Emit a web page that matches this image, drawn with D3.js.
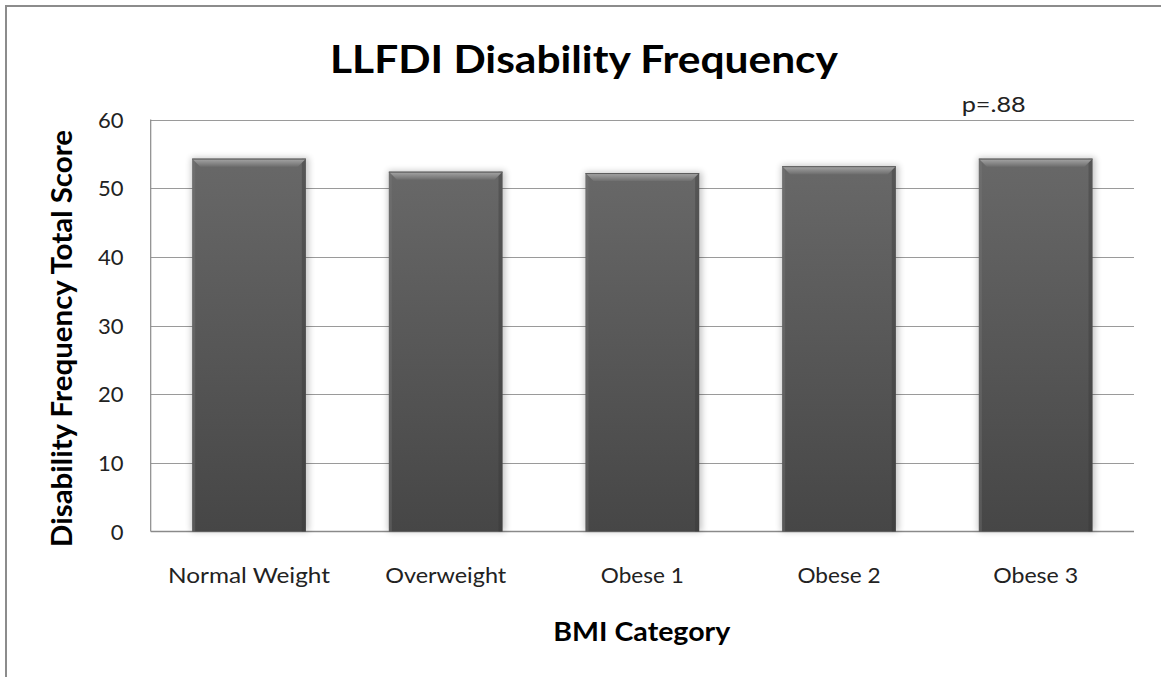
<!DOCTYPE html>
<html>
<head>
<meta charset="utf-8">
<script src="https://cdn.jsdelivr.net/npm/d3@7"></script>
<style>
  html, body { margin: 0; padding: 0; background: #fff; }
  svg { display: block; }
  text { font-family: Lato, "Open Sans", sans-serif; }
</style>
</head>
<body>
<svg id="chart" width="1161" height="677"></svg>
<script>
// BMI categories and mean LLFDI disability frequency scores
const categories = ["Normal Weight", "Overweight", "Obese 1", "Obese 2", "Obese 3"];
const scores = [54.3, 52.4, 52.2, 53.2, 54.3];
const yTicks = [0, 10, 20, 30, 40, 50, 60];
const chartTitle = "LLFDI Disability Frequency";
const xTitle = "BMI Category";
const yTitle = "Disability Frequency Total Score";
const pNote = "p=.88";

const svg = d3.select("#chart");
const W = 1161, H = 677;

const plot = { left: 150.7, right: 1134, top: 119.5, bottom: 531.5 };

const x = d3.scaleBand()
  .domain(categories)
  .range([plot.left, plot.right])
  .paddingInner(0.422)
  .paddingOuter(0.211);

const y = d3.scaleLinear()
  .domain([0, 60])
  .range([plot.bottom, plot.top]);

// Set a text run to a fixed length
function setLength(sel, target) {
  sel.attr("textLength", target).attr("lengthAdjust", "spacingAndGlyphs");
}

const defs = svg.append("defs");

const bodyGrad = defs.append("linearGradient")
  .attr("id", "barBody").attr("x1", 0).attr("y1", 0).attr("x2", 0).attr("y2", 1);
bodyGrad.append("stop").attr("offset", "0%").attr("stop-color", "#686868");
bodyGrad.append("stop").attr("offset", "100%").attr("stop-color", "#464646");

const topGrad = defs.append("linearGradient")
  .attr("id", "barTop").attr("x1", 0).attr("y1", 0).attr("x2", 0).attr("y2", 1);
topGrad.append("stop").attr("offset", "0%").attr("stop-color", "#a8a8a8");
topGrad.append("stop").attr("offset", "100%").attr("stop-color", "#6e6e6e");

const shadow = defs.append("filter")
  .attr("id", "barShadow").attr("x", "-20%").attr("y", "-20%")
  .attr("width", "140%").attr("height", "140%");
shadow.append("feGaussianBlur").attr("stdDeviation", 3);

// Outer chart frame (runs past the right and bottom edges)
svg.append("rect")
  .attr("x", 6).attr("y", 6)
  .attr("width", W + 20).attr("height", H + 20)
  .attr("fill", "#fff")
  .attr("stroke", "#8c8c8c").attr("stroke-width", 2);

// Horizontal gridlines
svg.append("g")
  .selectAll("line")
  .data(yTicks.filter(d => d > 0))
  .join("line")
  .attr("x1", plot.left).attr("x2", plot.right)
  .attr("y1", d => Math.round(y(d)) + 0.5).attr("y2", d => Math.round(y(d)) + 0.5)
  .attr("stroke", "#9a9a9a").attr("stroke-width", 1.2);

// Axis lines
svg.append("line")
  .attr("x1", plot.left).attr("x2", plot.left)
  .attr("y1", plot.top).attr("y2", plot.bottom)
  .attr("stroke", "#8a8a8a").attr("stroke-width", 1.2);
svg.append("line")
  .attr("x1", plot.left).attr("x2", plot.right)
  .attr("y1", plot.bottom).attr("y2", plot.bottom)
  .attr("stroke", "#8a8a8a").attr("stroke-width", 1.5);

// Bars with a bevelled top
const bw = x.bandwidth();
const bev = 8;
const bars = svg.append("g").selectAll("g")
  .data(categories.map((c, i) => ({ c, v: scores[i] })))
  .join("g");

bars.append("rect")
  .attr("x", d => x(d.c) - 1)
  .attr("y", d => y(d.v) - 1)
  .attr("width", bw + 4)
  .attr("height", d => y(0) - y(d.v) + 1)
  .attr("fill", "#000").attr("opacity", 0.22)
  .attr("filter", "url(#barShadow)");

bars.append("rect")
  .attr("x", d => x(d.c))
  .attr("y", d => y(d.v))
  .attr("width", bw)
  .attr("height", d => y(0) - y(d.v))
  .attr("fill", "url(#barBody)");

// left and right edge shading
bars.append("rect")
  .attr("x", d => x(d.c))
  .attr("y", d => y(d.v))
  .attr("width", 3)
  .attr("height", d => y(0) - y(d.v))
  .attr("fill", "#7a7a7a").attr("opacity", 0.35);
bars.append("rect")
  .attr("x", d => x(d.c) + bw - 4)
  .attr("y", d => y(d.v))
  .attr("width", 4)
  .attr("height", d => y(0) - y(d.v))
  .attr("fill", "#333").attr("opacity", 0.35);

bars.append("path")
  .attr("d", d => {
    const x0 = x(d.c), x1 = x0 + bw, y0 = y(d.v);
    return `M${x0},${y0}L${x1},${y0}L${x1 - bev},${y0 + bev}L${x0 + bev},${y0 + bev}Z`;
  })
  .attr("fill", "url(#barTop)");

bars.append("line")
  .attr("x1", d => x(d.c)).attr("x2", d => x(d.c) + bw)
  .attr("y1", d => y(d.v) + 0.5).attr("y2", d => y(d.v) + 0.5)
  .attr("stroke", "#5a5a5a").attr("stroke-width", 1);

// Category labels
const labelWidths = [162, 121, 83, 83, 85];
svg.append("g").selectAll("text")
  .data(categories)
  .join("text")
  .attr("x", d => x(d) + bw / 2)
  .attr("y", 583)
  .attr("text-anchor", "middle")
  .attr("font-size", 21.5)
  .attr("fill", "#222")
  .text(d => d)
  .each(function (d, i) { setLength(d3.select(this), labelWidths[i]); });

// Y tick labels
svg.append("g").selectAll("text")
  .data(yTicks)
  .join("text")
  .attr("x", 123.5)
  .attr("y", d => y(d) + 8)
  .attr("text-anchor", "end")
  .attr("font-size", 22)
  .attr("fill", "#222")
  .text(d => d);

// Significance note
const pn = svg.append("text")
  .attr("x", 961.7).attr("y", 112.3)
  .attr("font-size", 22)
  .attr("fill", "#222")
  .text(pNote);
setLength(pn, 64);

// Chart title
const title = svg.append("text")
  .attr("x", 330).attr("y", 72.7)
  .attr("font-size", 38.5).attr("font-weight", 700)
  .attr("fill", "#000")
  .text(chartTitle);
setLength(title, 508);

// Axis titles
const xt = svg.append("text")
  .attr("x", 553.3).attr("y", 641)
  .attr("font-size", 27).attr("font-weight", 700)
  .attr("fill", "#000")
  .text(xTitle);
setLength(xt, 177);

const yt = svg.append("text")
  .attr("transform", "translate(71.7,547) rotate(-90)")
  .attr("font-size", 28).attr("font-weight", 700)
  .attr("fill", "#000")
  .text(yTitle);
setLength(yt, 417);
</script>
</body>
</html>
